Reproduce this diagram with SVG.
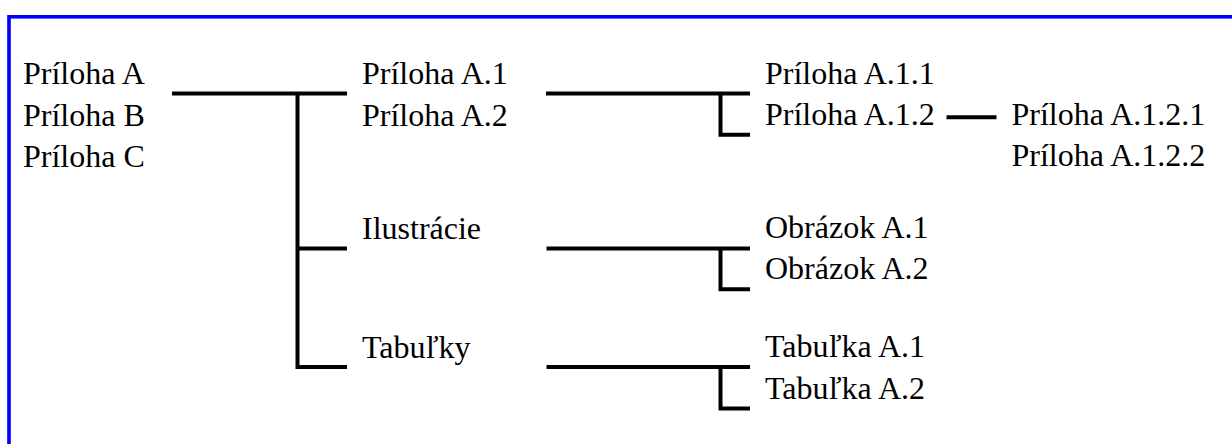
<svg xmlns="http://www.w3.org/2000/svg" width="1232" height="444" viewBox="0 0 1232 444">
<style>
  .t { font-family: "Liberation Serif", "Times New Roman", serif; font-size: 32px; fill: #000; }
  .c { fill: none; stroke: #000; stroke-width: 4; stroke-linecap: butt; stroke-linejoin: miter; }
  .frame { fill: none; stroke: #0000ff; stroke-width: 3.6; }
</style>
<rect width="1232" height="444" fill="#fff"/>
<rect class="frame" x="9" y="16.8" width="1400" height="600"/>
<g id="connectors">
  <path class="c" d="M172,93.5 H347 M297.5,93.5 V367 H347 M297.5,248.5 H347"/>
  <path class="c" d="M546,93.5 H750 M720.5,93.5 V134.8 H750"/>
  <path class="c" d="M546.5,248.5 H750 M720.5,248.5 V289.3 H750"/>
  <path class="c" d="M546.5,367 H750 M720.5,367 V408.5 H750"/>
  <path class="c" d="M946.5,117.3 H996.5"/>
</g>
<g id="root">
  <text class="t" font-family="Liberation Serif" x="23" y="84">Príloha A</text>
  <text class="t" font-family="Liberation Serif" x="23" y="125.5">Príloha B</text>
  <text class="t" font-family="Liberation Serif" x="23" y="167">Príloha C</text>
</g>
<g id="prilohaA1">
  <text class="t" font-family="Liberation Serif" x="362" y="84">Príloha A.1</text>
  <text class="t" font-family="Liberation Serif" x="362" y="125.5">Príloha A.2</text>
</g>
<g id="ilustracie">
  <text class="t" font-family="Liberation Serif" x="362" y="239">Ilustrácie</text>
</g>
<g id="tabulky">
  <text class="t" font-family="Liberation Serif" x="362" y="358">Tabuľky</text>
</g>
<g id="prilohaA11">
  <text class="t" font-family="Liberation Serif" x="765" y="84">Príloha A.1.1</text>
  <text class="t" font-family="Liberation Serif" x="765" y="125">Príloha A.1.2</text>
</g>
<g id="prilohaA121">
  <text class="t" font-family="Liberation Serif" x="1011.5" y="125">Príloha A.1.2.1</text>
  <text class="t" font-family="Liberation Serif" x="1011.5" y="166">Príloha A.1.2.2</text>
</g>
<g id="obrazky">
  <text class="t" font-family="Liberation Serif" x="765" y="237.5">Obrázok A.1</text>
  <text class="t" font-family="Liberation Serif" x="765" y="279">Obrázok A.2</text>
</g>
<g id="tabulkyA">
  <text class="t" font-family="Liberation Serif" x="765" y="357">Tabuľka A.1</text>
  <text class="t" font-family="Liberation Serif" x="765" y="398.5">Tabuľka A.2</text>
</g>
</svg>
